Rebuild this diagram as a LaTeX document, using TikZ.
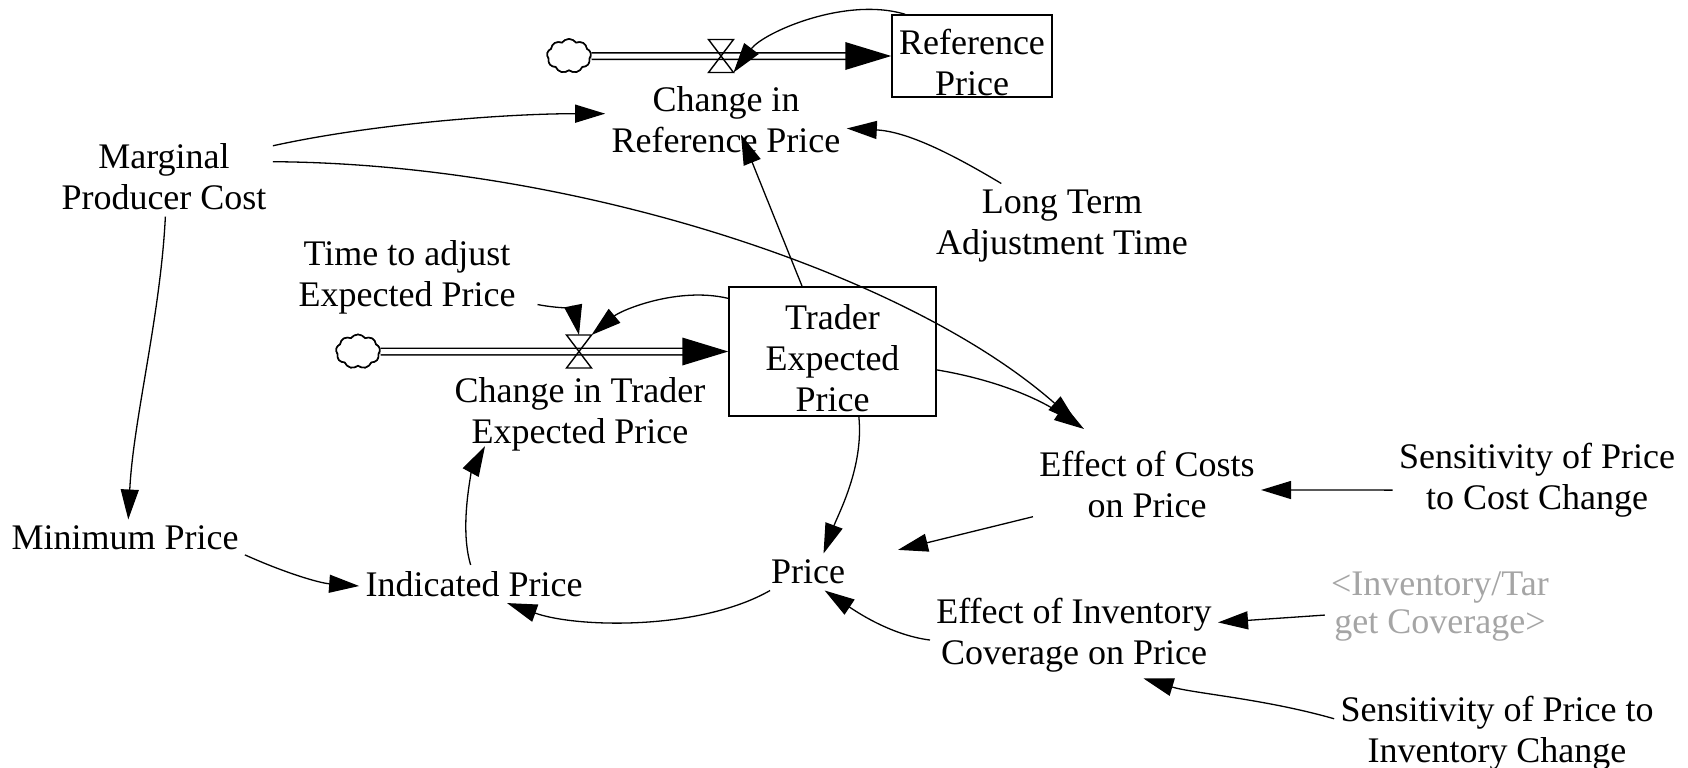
\documentclass[tikz,border=0pt]{standalone}
\usepackage{fontspec}
\setmainfont{Liberation Serif}
\usetikzlibrary{arrows.meta,shapes.symbols,calc}
\definecolor{shadowtxt}{RGB}{165,165,165}
\begin{document}
\begin{tikzpicture}[x=0.5pt,y=-0.5pt,
  txt/.style={align=center,inner sep=3pt,font=\fontsize{18}{20.5}\selectfont},
  graytxt/.style={align=center,inner sep=3pt,text=shadowtxt,font=\fontsize{18}{19}\selectfont},
  stockbox/.style={draw,line width=0.75pt,inner sep=0pt,align=center,font=\fontsize{18}{20.5}\selectfont},
  valvebox/.style={inner sep=0pt,outer sep=0pt,minimum width=12.5pt,minimum height=16.5pt},
  valveline/.style={draw,line width=0.7pt},
  sourcecloud/.style={cloud,cloud puffs=9,cloud puff arc=110,aspect=1.3,draw,line width=0.8pt,fill=white,minimum width=22pt,minimum height=17pt,inner sep=0pt},
  pipe/.style={double=white,double distance=2.5pt,line width=0.75pt},
  conn/.style={draw,line width=0.65pt,-{Triangle[length=15pt,width=9pt]}}]
\useasboundingbox (0,0) rectangle (1688,767);

% stocks
\node[stockbox,minimum width=80pt,minimum height=41pt] (refp) at (972,56) {\rule{0pt}{19.5pt}Reference\\Price};
\node[stockbox,minimum width=103.5pt,minimum height=64.5pt] (tep) at (832.5,351.5) {\rule{0pt}{19.5pt}Trader\\Expected\\Price};

% clouds and valves
\node[sourcecloud] (c1) at (569,56) {};
\node[sourcecloud] (c2) at (358,351.5) {};
\node[valvebox] (v1) at (721,56) {};
\node[valvebox] (v2) at (579,351.5) {};

% variables
\node[txt] (cirp) at (726,120) {Change in\\Reference Price};
\node[txt] (mpc) at (164,177) {Marginal\\Producer Cost};
\node[txt] (ltat) at (1062,226) {Long Term\\Adjustment Time};
\node[txt] (tta) at (407,277) {Time to adjust\\Expected Price};
\node[txt] (ctep) at (580,414) {Change in Trader\\Expected Price};
\node[txt] (ecp) at (1147,484) {Effect of Costs\\on Price};
\node[txt] (spcc) at (1537,480) {Sensitivity of Price\\to Cost Change};
\node[txt] (minp) at (125,538) {Minimum Price};
\node[txt] (indp) at (474,584) {Indicated Price};
\node[txt] (price) at (808,572) {Price};
\node[txt] (eicp) at (1074,635) {Effect of Inventory\\Coverage on Price};
\node[graytxt] (itc) at (1440,607) {<Inventory/Tar\\get Coverage>};
\node[txt] (spic) at (1497,733) {Sensitivity of Price to\\Inventory Change};

% flow pipes
\draw[pipe] (c1.east) -- ([xshift=-22pt]refp.west);
\fill (refp.west) -- ++(-23pt,7pt) -- ++(0,-14pt) -- cycle;
\draw[pipe] (c2.east) -- ([xshift=-22pt]tep.west);
\fill (tep.west) -- ++(-23pt,7pt) -- ++(0,-14pt) -- cycle;
\node[sourcecloud] at (c1) {};
\node[sourcecloud] at (c2) {};

% valves
\draw[valveline] (v1.north west) -- (v1.north east) -- (v1.center) -- cycle;
\draw[valveline] (v1.south west) -- (v1.south east) -- (v1.center) -- cycle;
\draw[valveline] (v2.north west) -- (v2.north east) -- (v2.center) -- cycle;
\draw[valveline] (v2.south west) -- (v2.south east) -- (v2.center) -- cycle;

% connectors
\draw[conn] (mpc.16) .. controls +(100,-22) and +(-100,0) .. (cirp.177);
\draw[conn] (mpc.8) .. controls +(300,2) and +(-170,-150) .. ($(ecp.center)+(-70,-61)$);
\draw[conn] (ltat.145) .. controls +(-50,-30) and +(60,3) .. (cirp.-4);
\draw[conn] (refp.148) .. controls +(-60,-18) and +(30,-40) .. (v1.south east);
\draw[conn,shorten <=8pt] (tta.-12) .. controls +(25,5) and +(-5,-25) .. (v2.north);
\draw[conn] (tep.153) .. controls +(-50,-12) and +(30,-25) .. (v2.north east);
\draw[conn] (tep.-10) .. controls +(60,10) and +(-45,-30) .. ($(ecp.center)+(-63,-55)$);
\draw[conn] (tep.-68) .. controls +(5,50) and +(15,-40) .. (price.50);
\draw[conn] (mpc.-88) .. controls +(-5,100) and +(5,-100) .. (minp.80);
\draw[conn] (minp.-8) .. controls +(40,18) and +(-40,-3) .. (indp.181);
\draw[conn] (indp.100) .. controls +(-12,-40) and +(-12,22) .. ($(ctep.south)+(-95,-11)$);
\draw[conn] (price.206) .. controls +(-70,40) and +(70,25) .. (indp.-30);
\draw[conn,shorten >=24pt] (ecp.196) -- (price);
\draw[conn] (spcc.184) -- (ecp.-3);
\draw[conn] (eicp.182) .. controls +(-40,-5) and +(30,20) .. (price.-48);
\draw[conn] (itc.184) -- (eicp.5);
\draw[conn] (spic.175) .. controls +(-70,-20) and +(50,15) .. (eicp.-32);
\draw[conn] (tep.115) -- ($(cirp.south)+(15,-25)$);
\end{tikzpicture}
\end{document}
